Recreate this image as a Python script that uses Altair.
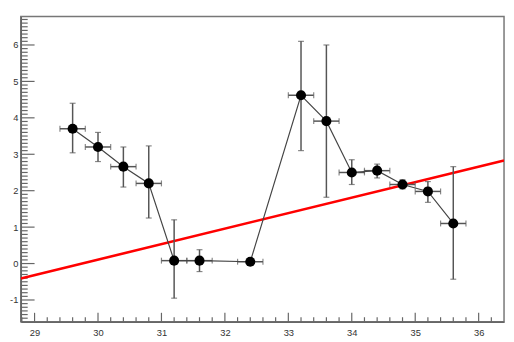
import altair as alt
import pandas as pd
import numpy as np

# ---- data ----
x_vals = [29.6, 30.0, 30.4, 30.8, 31.2, 31.6, 32.4, 33.2, 33.6, 34.0, 34.4, 34.8, 35.2, 35.6]
y_vals = [3.70, 3.20, 2.66, 2.20, 0.08, 0.08, 0.05, 4.62, 3.91, 2.50, 2.55, 2.17, 1.98, 1.10]
y_high = [4.40, 3.60, 3.20, 3.23, 1.20, 0.38, 0.05, 6.10, 6.00, 2.85, 2.73, 2.30, 2.25, 2.66]
y_low = [3.04, 2.80, 2.10, 1.25, -0.95, -0.22, 0.05, 3.10, 1.82, 2.17, 2.35, 2.05, 1.68, -0.43]
x_err = [0.2, 0.2, 0.2, 0.2, 0.2, 0.2, 0.2, 0.2, 0.2, 0.2, 0.2, 0.2, 0.2, 0.2]

fit_x = [28.783, 36.40]
fit_y = [-0.41, 2.83]

x_labels = [29, 30, 31, 32, 33, 34, 35, 36]
y_labels = [-1, 0, 1, 2, 3, 4, 5, 6]

X_DOM = [28.783, 36.40]
Y_DOM = [-1.595, 6.78]

W, H = 491, 310

df = pd.DataFrame({"x": x_vals, "y": y_vals, "yhi": y_high, "ylo": y_low, "xe": x_err})
df["xlo"] = df["x"] - df["xe"]
df["xhi"] = df["x"] + df["xe"]
df_err = df[df["yhi"] > df["ylo"]]

fit_df = pd.DataFrame({"x": fit_x, "y": fit_y})

# axis tick positions
y_major = pd.DataFrame({"v": y_labels})
y_minor = pd.DataFrame({"v": [round(v, 2) for v in np.arange(-1.5, 6.75, 0.1) if abs(v - round(v)) > 1e-6]})
x_major = pd.DataFrame({"v": x_labels})
x_minor = pd.DataFrame({"v": [round(v, 2) for v in np.arange(28.8, 36.4, 0.2) if abs(v - round(v)) > 1e-6]})

xs = alt.Scale(domain=X_DOM, nice=False, zero=False)
ys = alt.Scale(domain=Y_DOM, nice=False, zero=False)
xaxis = alt.Axis(values=x_labels, title=None, labelPadding=6, tickSize=0, ticks=False, grid=False)
yaxis = alt.Axis(values=y_labels, title=None, labelPadding=3, tickSize=0, ticks=False, grid=False,
                 labelExpr="replace(datum.label, '\u2212', '-')")


def X(f):
    return alt.X(f, type="quantitative", scale=xs, axis=xaxis)


def Y(f):
    return alt.Y(f, type="quantitative", scale=ys, axis=yaxis)


ERR = "#555555"

vbar = alt.Chart(df_err).mark_rule(color=ERR, strokeWidth=1.5).encode(x=X("x"), y=Y("ylo"), y2="yhi")
vcap_hi = alt.Chart(df_err).mark_tick(color=ERR, orient="horizontal", size=6, thickness=1.2).encode(x=X("x"), y=Y("yhi"))
vcap_lo = alt.Chart(df_err).mark_tick(color=ERR, orient="horizontal", size=6, thickness=1.2).encode(x=X("x"), y=Y("ylo"))
hbar = alt.Chart(df).mark_rule(color=ERR, strokeWidth=1.5).encode(x=X("xlo"), x2="xhi", y=Y("y"))
hcap_l = alt.Chart(df).mark_tick(color=ERR, orient="vertical", size=6, thickness=1.2).encode(x=X("xlo"), y=Y("y"))
hcap_r = alt.Chart(df).mark_tick(color=ERR, orient="vertical", size=6, thickness=1.2).encode(x=X("xhi"), y=Y("y"))

conn = alt.Chart(df).mark_line(color="#444444", strokeWidth=1.2).encode(x=X("x"), y=Y("y"), order="x:Q")
pts = alt.Chart(df).mark_point(filled=True, color="black", opacity=1, size=105, shape="circle").encode(x=X("x"), y=Y("y"))

fit = alt.Chart(fit_df).mark_line(color="#ff0000", strokeWidth=2.6, clip=True).encode(x=X("x"), y=Y("y"))

TK = "#666666"
ymaj = alt.Chart(y_major).mark_rule(color=TK, strokeWidth=1.2).encode(y=Y("v"), x=alt.value(0), x2=alt.value(14))
ymin = alt.Chart(y_minor).mark_rule(color=TK, strokeWidth=1.2).encode(y=Y("v"), x=alt.value(0), x2=alt.value(7))
xmaj = alt.Chart(x_major).mark_rule(color=TK, strokeWidth=1.2).encode(x=X("v"), y=alt.value(H), y2=alt.value(H - 9))
xmin = alt.Chart(x_minor).mark_rule(color=TK, strokeWidth=1.2).encode(x=X("v"), y=alt.value(H), y2=alt.value(H - 4.5))

chart = alt.layer(
    ymaj, ymin, xmaj, xmin,
    fit,
    vbar, vcap_hi, vcap_lo, hbar, hcap_l, hcap_r,
    conn, pts,
).properties(
    width=W,
    height=H,
    autosize=alt.AutoSizeParams(type="none"),
    padding={"left": 13, "top": 6, "right": 2, "bottom": 20},
).configure_view(
    stroke="#777777", strokeWidth=1.5
).configure_axis(
    domainColor="#666666", domainWidth=1.5, labelColor="#333333",
    labelFont="Liberation Sans", labelFontSize=9.5,
)

chart.save("out.html", embed_options={"renderer": "svg", "actions": False})
